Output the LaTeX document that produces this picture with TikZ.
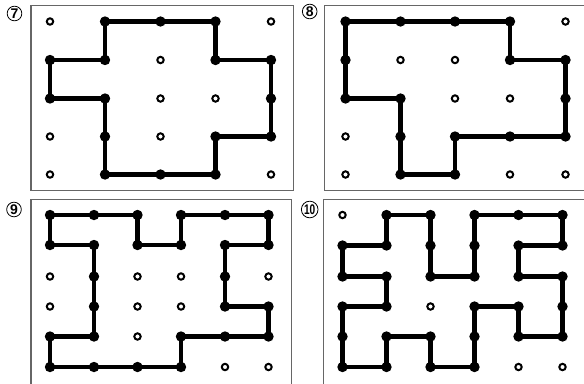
\documentclass[tikz,border=0pt]{standalone}
\usepackage{fontspec}
\setsansfont{Liberation Sans}
\begin{document}
\begin{tikzpicture}[x=0.75pt,y=-0.75pt,
  panel/.style={draw=black!60,line width=0.8pt},
  route/.style={line width=3.5pt,line join=round},
  fdot/.style={circle,fill=black,inner sep=0pt,minimum size=7.8pt},
  odot/.style={circle,draw=black,fill=white,line width=1.5pt,inner sep=0pt,minimum size=4.8pt},
  num/.style={circle,draw,line width=0.6pt,inner sep=0pt,minimum size=11pt,font=\sffamily\bfseries\fontsize{10.5}{10.5}\selectfont}]
\useasboundingbox (0,0) rectangle (584,383);
\clip (0,0) rectangle (584,383);
% panel frames
\draw[panel] (31,5.3) rectangle (293.5,190.7);
\draw[panel] (324.3,5.3) rectangle (600,190.7);
\draw[panel] (31,199.3) rectangle (291.7,400);
\draw[panel] (323.5,199.8) rectangle (600,400);
% labels
\node[num] (n7) at (14.5,13.5) {7};
\node[num] (n8) at (309.7,11.5) {8};
\node[num] (n9) at (14,209.5) {9};
\node[num,minimum size=12.5pt] (n10) at (309.7,209.5) {\scalebox{0.72}[1]{10}};
% grid coordinates
\foreach \i/\x in {0/50,1/105,2/160.5,3/215.5,4/271}
  \foreach \j/\y in {0/21.5,1/60,2/98.5,3/136.5,4/174.5}
    \coordinate (A-\i-\j) at (\x,\y);
\foreach \i/\x in {0/345.5,1/400.5,2/455,3/510,4/565.5}
  \foreach \j/\y in {0/21.5,1/60,2/98.5,3/136.5,4/174.5}
    \coordinate (B-\i-\j) at (\x,\y);
\foreach \i/\x in {0/50,1/94,2/137.5,3/181,4/225,5/268.5}
  \foreach \j/\y in {0/215,1/245,2/276.5,3/306.5,4/336.5,5/367}
    \coordinate (C-\i-\j) at (\x,\y);
\foreach \i/\x in {0/342.5,1/386.5,2/430.5,3/474.5,4/518.5,5/562.5}
  \foreach \j/\y in {0/215,1/245.5,2/276.5,3/306.5,4/336.5,5/367}
    \coordinate (D-\i-\j) at (\x,\y);
% routes
\draw[route] (A-1-0)--(A-2-0)--(A-3-0)--(A-3-1)--(A-4-1)--(A-4-2)--(A-4-3)--(A-3-3)--(A-3-4)--(A-2-4)--(A-1-4)--(A-1-3)--(A-1-2)--(A-0-2)--(A-0-1)--(A-1-1)--cycle;
\draw[route] (B-0-0)--(B-1-0)--(B-2-0)--(B-3-0)--(B-3-1)--(B-4-1)--(B-4-2)--(B-4-3)--(B-3-3)--(B-2-3)--(B-2-4)--(B-1-4)--(B-1-3)--(B-1-2)--(B-0-2)--(B-0-1)--cycle;
\draw[route] (C-0-0)--(C-1-0)--(C-2-0)--(C-2-1)--(C-3-1)--(C-3-0)--(C-4-0)--(C-5-0)--(C-5-1)--(C-4-1)--(C-4-2)--(C-4-3)--(C-5-3)--(C-5-4)--(C-4-4)--(C-3-4)--(C-3-5)--(C-2-5)--(C-1-5)--(C-0-5)--(C-0-4)--(C-1-4)--(C-1-3)--(C-1-2)--(C-1-1)--(C-0-1)--cycle;
\draw[route] (D-1-0)--(D-2-0)--(D-2-1)--(D-2-2)--(D-3-2)--(D-3-1)--(D-3-0)--(D-4-0)--(D-5-0)--(D-5-1)--(D-4-1)--(D-4-2)--(D-5-2)--(D-5-3)--(D-5-4)--(D-4-4)--(D-4-3)--(D-3-3)--(D-3-4)--(D-3-5)--(D-2-5)--(D-2-4)--(D-1-4)--(D-1-5)--(D-0-5)--(D-0-4)--(D-0-3)--(D-1-3)--(D-1-2)--(D-0-2)--(D-0-1)--(D-1-1)--cycle;
% filled dots
\foreach \p in {1-0,2-0,3-0,3-1,4-1,4-2,4-3,3-3,3-4,2-4,1-4,1-3,1-2,0-2,0-1,1-1}
  \node[fdot] (fA-\p) at (A-\p) {};
\foreach \p in {0-0,1-0,2-0,3-0,3-1,4-1,4-2,4-3,3-3,2-3,2-4,1-4,1-3,1-2,0-2,0-1}
  \node[fdot] (fB-\p) at (B-\p) {};
\foreach \p in {0-0,1-0,2-0,2-1,3-1,3-0,4-0,5-0,5-1,4-1,4-2,4-3,5-3,5-4,4-4,3-4,3-5,2-5,1-5,0-5,0-4,1-4,1-3,1-2,1-1,0-1}
  \node[fdot] (fC-\p) at (C-\p) {};
\foreach \p in {1-0,2-0,2-1,2-2,3-2,3-1,3-0,4-0,5-0,5-1,4-1,4-2,5-2,5-3,5-4,4-4,4-3,3-3,3-4,3-5,2-5,2-4,1-4,1-5,0-5,0-4,0-3,1-3,1-2,0-2,0-1,1-1}
  \node[fdot] (fD-\p) at (D-\p) {};
% open dots
\foreach \p in {0-0,4-0,2-1,2-2,3-2,0-3,2-3,0-4,4-4}
  \node[odot] (oA-\p) at (A-\p) {};
\foreach \p in {4-0,1-1,2-1,2-2,3-2,0-3,0-4,3-4,4-4}
  \node[odot] (oB-\p) at (B-\p) {};
\foreach \p in {0-2,2-2,3-2,5-2,0-3,2-3,3-3,2-4,4-5,5-5}
  \node[odot] (oC-\p) at (C-\p) {};
\foreach \p in {0-0,2-3,4-5,5-5}
  \node[odot] (oD-\p) at (D-\p) {};
\end{tikzpicture}
\end{document}
